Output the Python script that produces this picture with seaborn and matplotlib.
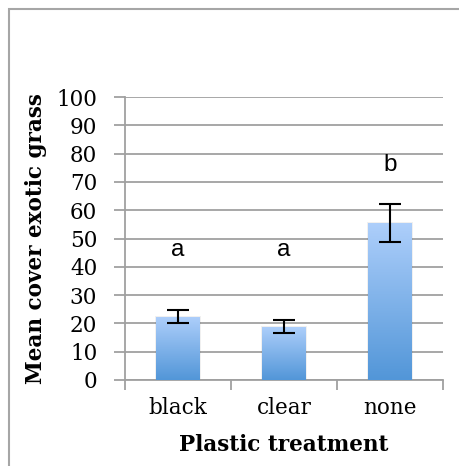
import numpy as np
import pandas as pd
import matplotlib
matplotlib.use("Agg")
import matplotlib.pyplot as plt
import seaborn as sns
from matplotlib.colors import LinearSegmentedColormap
from matplotlib.patches import Rectangle

categories = ["black", "clear", "none"]
means = [22.3, 18.9, 55.5]
errors = [2.3, 2.3, 6.6]
letters = ["a", "a", "b"]
letter_y = [46, 46, 76]
y_ticks = [0, 10, 20, 30, 40, 50, 60, 70, 80, 90, 100]

df = pd.DataFrame({"treatment": categories, "cover": means})

sns.set_theme(style="white")
plt.rcParams["font.family"] = ["DejaVu Serif"]
plt.rcParams["axes.labelcolor"] = "black"
plt.rcParams["text.color"] = "black"
plt.rcParams["xtick.labelcolor"] = "black"
plt.rcParams["ytick.labelcolor"] = "black"

W, H = 459, 466
fig = plt.figure(figsize=(W / 100, H / 100), dpi=100)
ax = fig.add_axes([125 / W, 1 - 380 / H, 318 / W, 283 / H])

sns.barplot(data=df, x="treatment", y="cover", ax=ax, color="#7fb0eb",
            width=0.41, errorbar=None, zorder=3)

cmap = LinearSegmentedColormap.from_list("g", ["#5296d8", "#aecffb"])
grad = np.linspace(0, 1, 256).reshape(-1, 1)
for p in ax.patches:
    x0, y0 = p.get_x(), p.get_y()
    w, h = p.get_width(), p.get_height()
    ax.add_patch(Rectangle((x0 - 0.015, y0), w + 0.03, h + 0.3, facecolor="#000000",
                           alpha=0.06, edgecolor="none", zorder=2.5))
    im = ax.imshow(grad, extent=[x0, x0 + w, y0, y0 + h], origin="lower",
                   cmap=cmap, aspect="auto", zorder=3.2)
    im.set_clip_path(p)
    p.set_edgecolor("none")

ax.errorbar(range(len(categories)), means, yerr=errors, fmt="none",
            ecolor="black", elinewidth=1.5, capsize=8, capthick=1.5, zorder=5)

for i, (t, yv) in enumerate(zip(letters, letter_y)):
    ax.text(i, yv, t, ha="center", va="center", fontsize=17.5,
            family="Liberation Sans", color="black", zorder=6)

ax.set_xlim(-0.5, 2.5)
ax.set_ylim(0, 100)
ax.set_yticks(y_ticks)
ax.set_yticklabels([str(v) for v in y_ticks], fontsize=15.5, color="black")
ax.yaxis.grid(True, color="#a0a0a0", linewidth=1.3, zorder=0)
ax.set_axisbelow(True)
ax.tick_params(axis="y", which="major", length=8, width=1.3, color="#a0a0a0",
               pad=12, left=True)
ax.set_xticks(range(len(categories)))
ax.set_xticklabels(categories, fontsize=15.5, color="black")
ax.set_xticks([-0.5, 0.5, 1.5, 2.5], minor=True)
ax.tick_params(axis="x", which="major", length=0, pad=12)
ax.tick_params(axis="x", which="minor", length=7, width=1.3, color="#a0a0a0", bottom=True)

for s in ["top", "right"]:
    ax.spines[s].set_visible(False)
for s in ["left", "bottom"]:
    ax.spines[s].set_color("#a0a0a0")
    ax.spines[s].set_linewidth(1.3)

ax.set_xlabel("Plastic treatment", fontsize=15.5, fontweight="bold", labelpad=11,
              color="black")
ax.set_ylabel("Mean cover exotic grass", fontsize=15.5, fontweight="bold", labelpad=7,
              color="black")

fig.patches.append(Rectangle((9 / W, -0.05), 1.2, 1 - 9 / H + 0.05,
                             transform=fig.transFigure, fill=False,
                             edgecolor="#a6a6a6", linewidth=1.5))

fig.savefig("out.png", dpi=100)
